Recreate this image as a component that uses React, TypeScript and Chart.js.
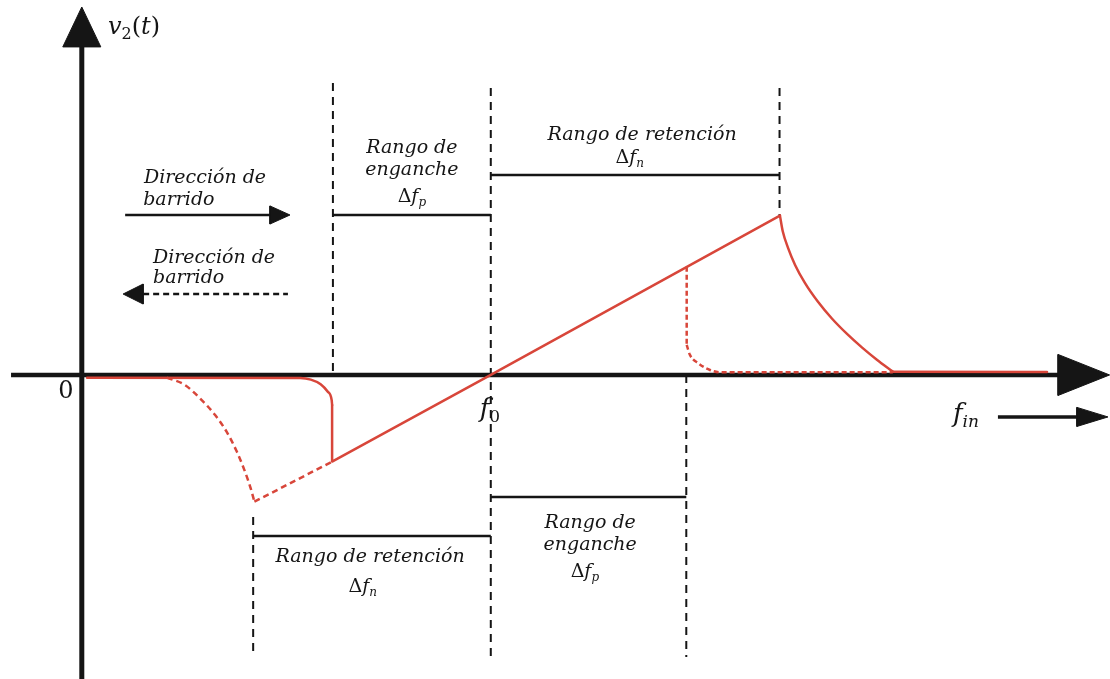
import React, { useEffect, useRef } from "react";
import { Chart, registerables } from "chart.js";

Chart.register(...registerables);

// Scale extents: x in frequency units (f0 = 100), y in v2 units (peak = 100)
const xLimits = [-20, 251.4];
const yLimits = [-191.2, 235.8];

// Solid red trace (sweep upward), split at its sharp corners
const upIdleX = [1.3, 53.4, 56.0, 58.4, 60.1, 61.1, 61.2];
const upIdleY = [-1.7, -1.9, -2.9, -5.8, -10.4, -15.9, -18.9];
const upLockedX = [61.2, 61.2, 100, 170.7];
const upLockedY = [-18.9, -54.5, 0, 100.2];
const upReleaseX = [170.7, 171.4, 172.7, 174.4, 176.8, 180.0, 183.4, 187.1, 190.8, 194.4, 198.3];
const upReleaseY = [100.2, 90.2, 79.8, 69.2, 57.9, 46.0, 35.5, 25.8, 17.2, 9.6, 2.1];
const upAfterX = [198.3, 236];
const upAfterY = [2.0, 1.9];

// Dashed red traces (sweep downward)
const downReleaseX = [20.8, 25.2, 28.9, 32.6, 35.4, 37.9, 39.9, 41.3, 42.2];
const downReleaseY = [-1.7, -6.3, -14.7, -25.2, -35.7, -48.2, -60.8, -71.3, -79.7];
const downLockedX = [42.2, 61.2];
const downLockedY = [-79.7, -54.5];
const downJumpX = [147.9, 147.9];
const downJumpY = [68.1, 18.9];
const downCaptureX = [147.9, 148.7, 150.7, 153.6, 156.0, 198.3];
const downCaptureY = [18.9, 12.6, 7.4, 3.1, 1.7, 1.7];

// Axes
const axisHX = [-17.3, 238.7];
const axisHY = [0, 0];
const axisVX = [0, 0];
const axisVY = [-191.2, 206.3];

// Dashed guide lines (vertical)
const guideX = [61.4, 100, 170.6, 41.9, 147.8];
const guideTop = [183.6, 180.5, 180.5, -89.3, 0];
const guideBottom = [0, -177.4, 100, -177.4, -177.4];

// Range brackets (horizontal)
const bracketY = [100.6, 125.8, -76.7, -101.3];
const bracketFrom = [61.4, 100, 100, 41.9];
const bracketTo = [100, 170.6, 147.8, 100];

// Arrow shafts
const shaftFromX = [10.6, 15.0, 224];
const shaftToX = [46, 50.4, 243.3];
const shaftY = [100.6, 50.9, -26.4];
const shaftDashed = [false, true, false];

// Arrow heads (tip, base, half width)
const headTipX = [0, 251.3, 50.9, 10.1, 250.9];
const headTipY = [231.4, 0, 100.6, 50.9, -26.4];
const headBaseX = [0, 238.7, 46, 15.0, 243.3];
const headBaseY = [206.3, 0, 100.6, 50.9, -26.4];
const headHalf = [4.65, 12.9, 5.7, 6.3, 6];

// Text labels ("_" marks a subscript)
const labelText = [
  "v_2(t)", "0", "f_0", "f_{in}",
  "Dirección de", "barrido", "Dirección de", "barrido",
  "Rango de", "enganche", "Δf_p",
  "Rango de retención", "Δf_n",
  "Rango de retención", "Δf_n",
  "Rango de", "enganche", "Δf_p",
];
const labelX = [6.4, -3.9, 99.8, 213, 15.2, 15.0, 17.4, 17.4, 80.7, 80.7, 80.7, 137, 134, 70.5, 68.7, 124.3, 124.3, 123];
const labelY = [218.2, -10.7, -22, -25.2, 123.9, 110.1, 73.6, 61, 142.8, 128.9, 111.9, 150.9, 136.5, -114.5, -133.3, -93.1, -106.9, -123.9];
const labelAlign = ["left", "center", "center", "left", "left", "left", "left", "left", "center", "center", "center", "center", "center", "center", "center", "center", "center", "center"];
const labelSize = [24, 24, 26, 26, 19, 19, 19, 19, 19, 19, 19, 19, 19, 19, 19, 19, 19, 19];

const RED = "#d8463a";
const INK = "#151515";
const FONT = '"DejaVu Serif"';

function zip(xs: number[], ys: number[]) {
  return xs.map((x, i) => ({ x, y: ys[i] }));
}

function parseRich(s: string) {
  const chars: { ch: string; sub: boolean }[] = [];
  let i = 0;
  while (i < s.length) {
    if (s[i] === "_") {
      if (s[i + 1] === "{") {
        const end = s.indexOf("}", i);
        for (const c of s.slice(i + 2, end)) chars.push({ ch: c, sub: true });
        i = end + 1;
      } else {
        chars.push({ ch: s[i + 1], sub: true });
        i += 2;
      }
    } else {
      chars.push({ ch: s[i], sub: false });
      i++;
    }
  }
  const runs: { text: string; sub: boolean; italic: boolean }[] = [];
  for (const c of chars) {
    const italic = !/[Δ0-9()]/.test(c.ch);
    const last = runs[runs.length - 1];
    if (last && last.sub === c.sub && last.italic === italic) last.text += c.ch;
    else runs.push({ text: c.ch, sub: c.sub, italic });
  }
  return runs;
}

const textPlugin = {
  id: "richLabels",
  afterDatasetsDraw(chart: any) {
    const { ctx } = chart;
    const xs = chart.scales.x;
    const ys = chart.scales.y;
    ctx.save();
    ctx.fillStyle = INK;
    ctx.textBaseline = "middle";
    ctx.textAlign = "left";
    labelText.forEach((t, i) => {
      const size = labelSize[i];
      const runs = parseRich(t);
      const fontFor = (r: any) => `${r.italic ? "italic " : ""}${r.sub ? Math.round(size * 0.65) : size}px ${FONT}`;
      let total = 0;
      const widths = runs.map((r) => {
        ctx.font = fontFor(r);
        const w = ctx.measureText(r.text).width;
        total += w;
        return w;
      });
      let px = xs.getPixelForValue(labelX[i]);
      const py = ys.getPixelForValue(labelY[i]);
      if (labelAlign[i] === "center") px -= total / 2;
      runs.forEach((r, k) => {
        ctx.font = fontFor(r);
        ctx.fillText(r.text, px, r.sub ? py + size * 0.3 : py);
        px += widths[k];
      });
    });
    ctx.restore();
  },
};

export default function App() {
  const ref = useRef<HTMLCanvasElement | null>(null);
  useEffect(() => {
    if (!ref.current) return;
    const base = { showLine: true, pointRadius: 0, pointHoverRadius: 0, fill: false, clip: false as any, tension: 0 };
    const datasets: any[] = [];
    const solid = { ...base, borderColor: RED, borderWidth: 2.5, borderCapStyle: "round", borderJoinStyle: "round" };
    const dashed = { ...base, borderColor: RED, borderWidth: 2.5, borderDash: [6, 4] };
    const smooth = { cubicInterpolationMode: "monotone" };
    datasets.push({ ...solid, ...smooth, label: "ascendente libre", data: zip(upIdleX, upIdleY) });
    datasets.push({ ...solid, label: "ascendente enganchado", data: zip(upLockedX, upLockedY) });
    datasets.push({ ...solid, ...smooth, label: "ascendente liberado", data: zip(upReleaseX, upReleaseY) });
    datasets.push({ ...solid, label: "ascendente posterior", data: zip(upAfterX, upAfterY) });
    datasets.push({ ...dashed, ...smooth, label: "descendente liberado", data: zip(downReleaseX, downReleaseY) });
    datasets.push({ ...dashed, label: "descendente enganchado", data: zip(downLockedX, downLockedY) });
    datasets.push({ ...dashed, label: "descendente salto", data: zip(downJumpX, downJumpY), borderDash: [5, 3] });
    datasets.push({ ...dashed, ...smooth, label: "descendente captura", data: zip(downCaptureX, downCaptureY), borderDash: [5, 3] });
    guideX.forEach((gx, i) => {
      datasets.push({ ...base, label: "guía " + i, data: [{ x: gx, y: guideTop[i] }, { x: gx, y: guideBottom[i] }], borderColor: INK, borderWidth: 2, borderDash: [8, 6] });
    });
    bracketY.forEach((by, i) => {
      datasets.push({ ...base, label: "rango " + i, data: [{ x: bracketFrom[i], y: by }, { x: bracketTo[i], y: by }], borderColor: INK, borderWidth: 2.5 });
    });
    shaftY.forEach((sy, i) => {
      datasets.push({ ...base, label: "flecha " + i, data: [{ x: shaftFromX[i], y: sy }, { x: shaftToX[i], y: sy }], borderColor: INK, borderWidth: i === 2 ? 3.5 : 2.5, borderDash: shaftDashed[i] ? [6, 4] : [] });
    });
    headTipX.forEach((tx, i) => {
      const ty = headTipY[i];
      const bx = headBaseX[i];
      const by = headBaseY[i];
      const h = headHalf[i];
      const pts = ty === by
        ? [{ x: tx, y: ty }, { x: bx, y: by + h }, { x: bx, y: by - h }, { x: tx, y: ty }]
        : [{ x: tx, y: ty }, { x: bx + h, y: by }, { x: bx - h, y: by }, { x: tx, y: ty }];
      datasets.push({ ...base, label: "punta " + i, data: pts, borderColor: INK, borderWidth: 1, backgroundColor: INK, fill: "shape" });
    });
    datasets.push({ ...base, label: "eje f", data: zip(axisHX, axisHY), borderColor: INK, borderWidth: 4.5 });
    datasets.push({ ...base, label: "eje v", data: zip(axisVX, axisVY), borderColor: INK, borderWidth: 5 });

    const chart = new Chart(ref.current, {
      type: "scatter",
      data: { datasets },
      options: {
        animation: false,
        responsive: true,
        maintainAspectRatio: false,
        layout: { padding: 0 },
        plugins: { legend: { display: false }, tooltip: { enabled: false } },
        scales: {
          x: { type: "linear", min: xLimits[0], max: xLimits[1], display: false },
          y: { type: "linear", min: yLimits[0], max: yLimits[1], display: false },
        },
      },
      plugins: [textPlugin],
    });
    return () => chart.destroy();
  }, []);
  return (
    <div style={{ position: "fixed", left: 0, top: 0, width: 1110, height: 679, background: "#fff" }}>
      <canvas ref={ref} />
    </div>
  );
}
